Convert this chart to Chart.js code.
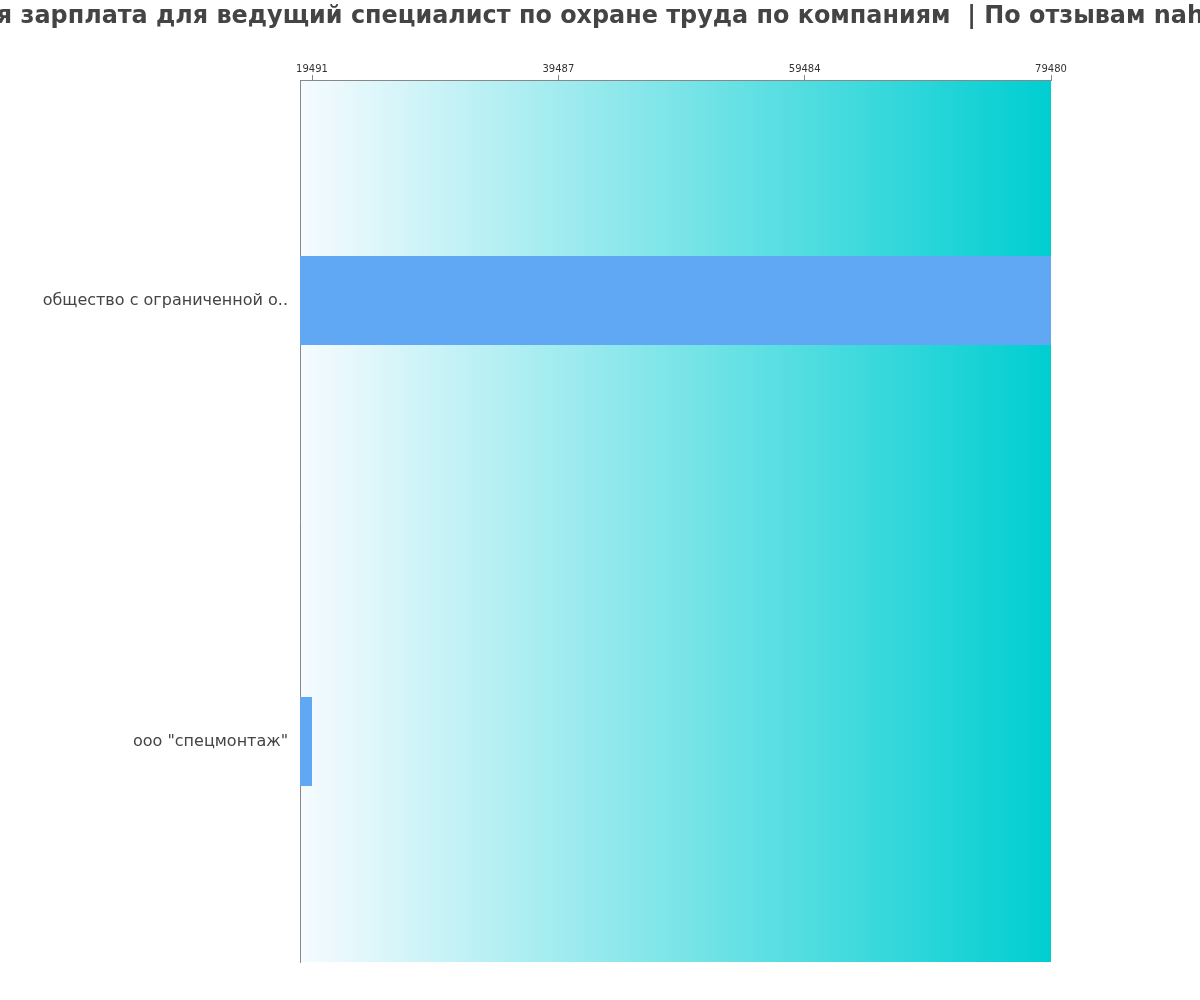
<!DOCTYPE html>
<html>
<head>
<meta charset="utf-8">
<script src="https://cdn.jsdelivr.net/npm/chart.js@4.4.1/dist/chart.umd.min.js"></script>
<style>
  html, body { margin: 0; padding: 0; background: #ffffff; }
  #wrap { width: 1200px; height: 1000px; position: relative; }
</style>
</head>
<body>
<div id="wrap"><canvas id="c" width="1200" height="1000"></canvas></div>
<script>
const titleText = 'Средняя зарплата для ведущий специалист по охране труда по компаниям  | По отзывам nahimi.ru';
const categories = ['общество с ограниченной о..', 'ооо "спецмонтаж"'];
const salaries = [79480, 19491];
const tickValues = [19491, 39487, 59484, 79480];

const minVal = Math.min(...salaries);
const maxVal = Math.max(...salaries);
const FONT = "'DejaVu Sans'";

const bgGradient = {
  id: 'bgGradient',
  beforeDraw(chart) {
    const { ctx, chartArea: a } = chart;
    const g = ctx.createLinearGradient(a.left, 0, a.right, 0);
    g.addColorStop(0, '#f6fbff');
    g.addColorStop(1, '#00ced1');
    ctx.save();
    ctx.fillStyle = g;
    ctx.fillRect(a.left, a.top, a.right - a.left, a.bottom - a.top);
    ctx.restore();
  }
};

// Title drawn without width compression (the built-in title squeezes long text)
const wideTitle = {
  id: 'wideTitle',
  afterDraw(chart) {
    const { ctx, width } = chart;
    ctx.save();
    ctx.font = "bold 23.9px 'DejaVu Sans'";
    ctx.fillStyle = '#444444';
    ctx.textAlign = 'center';
    ctx.textBaseline = 'alphabetic';
    ctx.fillText(titleText, width / 2 - 11, 23);
    ctx.restore();
  }
};

new Chart(document.getElementById('c'), {
  type: 'bar',
  data: {
    labels: categories,
    datasets: [{
      data: salaries,
      backgroundColor: '#60a8f4',
      borderWidth: 0,
      categoryPercentage: 1.0,
      barPercentage: 0.202
    }]
  },
  options: {
    indexAxis: 'y',
    responsive: false,
    animation: false,
    devicePixelRatio: 1,
    layout: { padding: { left: 0, right: 149, top: 0, bottom: 38 } },
    plugins: {
      legend: { display: false },
      tooltip: { enabled: false },
      title: { display: false }
    },
    scales: {
      x: {
        position: 'top',
        min: minVal * 0.95,
        max: maxVal,
        afterBuildTicks(scale) {
          scale.ticks = tickValues.map(v => ({ value: v }));
        },
        afterFit(scale) { scale.height = 80; },
        ticks: {
          color: '#333333',
          font: { family: FONT, size: 10 },
          padding: 0,
          maxRotation: 0,
          autoSkip: false,
          callback: (v) => String(v)
        },
        grid: { drawOnChartArea: false, drawTicks: true, tickLength: 5, color: '#888888' },
        border: { display: true, color: '#888888', width: 1 }
      },
      y: {
        afterFit(scale) { scale.width = 300; },
        ticks: {
          color: '#444444',
          font: { family: FONT, size: 16 },
          padding: 12
        },
        grid: { display: false, drawTicks: false },
        border: { display: true, color: '#888888', width: 1 }
      }
    }
  },
  plugins: [bgGradient, wideTitle]
});
</script>
</body>
</html>
